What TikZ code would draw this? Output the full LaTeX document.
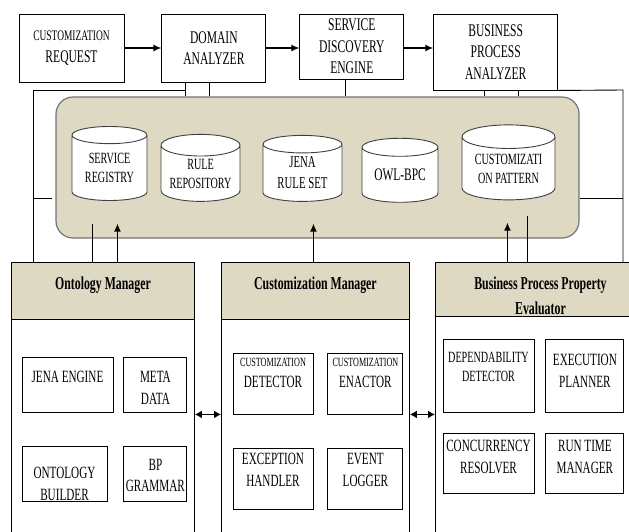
\documentclass[tikz,border=0pt]{standalone}
\usepackage{fontspec}
\newfontfamily\nar[FakeStretch=0.65]{Liberation Serif}
\usetikzlibrary{shapes.geometric,arrows.meta,positioning}
\definecolor{tanfill}{HTML}{DDD9C3}
\newcommand\smalltxt[1]{{\fontsize{12.5}{14}\selectfont #1}}

\begin{document}
\begin{tikzpicture}[
    x=1pt, y=-1pt, line width=0.9pt,
    box/.style={rectangle, draw, fill=white, inner sep=0pt, align=center, font=\nar\fontsize{17.8}{21.5}\selectfont},
    db/.style={cylinder, shape border rotate=90, draw=black!75, fill=white, aspect=0.35, inner sep=0pt, align=center, font=\nar\fontsize{15.6}{19}\selectfont},
    ibox/.style={rectangle, draw, fill=white, inner sep=0pt, minimum height=55pt},
    txt/.style={anchor=north, inner sep=0pt, align=center, font=\nar\fontsize{17.2}{21.5}\selectfont},
    head/.style={rectangle, draw, fill=tanfill, inner sep=0pt, anchor=north west},
    htxt/.style={anchor=north, inner sep=0pt, yshift=-14pt, align=center, font=\nar\bfseries\fontsize{18.2}{25}\selectfont},
    panel/.style={rectangle, draw, fill=white, inner sep=0pt, anchor=north west, minimum height=230pt},
    arrow/.style={-{Latex[length=8pt,width=7pt]}, line width=1.3pt},
    dblarrow/.style={{Latex[length=7pt,width=8pt]}-{Latex[length=7pt,width=8pt]}, line width=1.3pt}
]
\useasboundingbox (0,0) rectangle (629,531);
\clip (0,0) rectangle (629,531);

% top row
\node[box, minimum width=105pt, minimum height=68pt] (req) at (71.5,48) {{\fontsize{14.5}{17}\selectfont CUSTOMIZATION}\\REQUEST};
\node[box, minimum width=104pt, minimum height=68pt, right=37pt of req.north east, anchor=north west] (dom) {DOMAIN\\ANALYZER};
\node[box, minimum width=104pt, minimum height=65pt, right=33pt of dom.north east, anchor=north west] (sde) {SERVICE\\DISCOVERY\\ENGINE};
\node[box, minimum width=124pt, minimum height=76pt, right=29pt of sde.north east, anchor=north west] (bpa) {BUSINESS\\PROCESS\\ANALYZER};

\draw[arrow] (req) -- (dom);
\draw[arrow] (dom.east) -- (dom.east -| sde.west);
\draw[arrow] (sde.east |- dom.east) -- (bpa.west |- dom.east);

% knowledge base
\node[rectangle, rounded corners=17pt, draw=black!55, fill=tanfill, line width=1.2pt, minimum width=523pt, minimum height=141pt] (repo) at (317.5,167.5) {};

\node[db, minimum width=75pt, minimum height=74pt] (sreg) at (109.5,168) {SERVICE\\REGISTRY};
\node[db, minimum width=79pt, minimum height=67pt] (rrep) at (200.5,173.5) {RULE\\REPOSITORY};
\node[db, minimum width=79pt, minimum height=66pt, font=\nar\fontsize{16.6}{21}\selectfont] (jrs) at (302.5,173) {JENA\\RULE SET};
\node[db, minimum width=76pt, minimum height=64pt, font=\nar\fontsize{17.6}{21}\selectfont] (owl) at (400,175) {OWL-BPC};
\node[db, minimum width=93pt, minimum height=75pt] (cpat) at (508.5,168.5) {CUSTOMIZATI\\ON PATTERN};

% managers
\node[head, minimum width=183pt, minimum height=57pt, label={[htxt]north:Ontology Manager}] (omh) at (11,262) {};
\node[panel, minimum width=183pt] (omb) at (11,319) {};
\node[head, minimum width=188pt, minimum height=57pt, label={[htxt]north:Customization Manager}] (cmh) at (221,262) {};
\node[panel, minimum width=188pt] (cmb) at (221,319) {};
\node[head, minimum width=210pt, minimum height=54pt, label={[htxt]north:{Business Process Property\\Evaluator}}] (bph) at (435,262) {};
\node[panel, minimum width=210pt] (bpb) at (435,316) {};

% ontology manager parts
\node[ibox, minimum width=91pt, label={[txt, yshift=-14.5pt]north:JENA ENGINE}] (jeng) at (67.5,384.5) {};
\node[ibox, minimum width=63pt, right=10pt of jeng, label={[txt, yshift=-14.5pt]north:{META\\DATA}}] (meta) {};
\node[ibox, minimum width=85pt, below=34pt of jeng.south west, anchor=north west, label={[txt, yshift=-20.5pt]north:{ONTOLOGY\\BUILDER}}] (ontb) {};
\node[ibox, minimum width=63pt, right=16pt of ontb, label={[txt, yshift=-12pt]north:{BP\\GRAMMAR}}] (bpg) {};

% customization manager parts
\node[ibox, minimum width=80pt, minimum height=61pt, label={[txt, yshift=-5pt]north:{\smalltxt{CUSTOMIZATION}\\DETECTOR}}] (cdet) at (273,383.5) {};
\node[ibox, minimum width=75pt, minimum height=61pt, right=14pt of cdet, label={[txt, yshift=-5pt]north:{\smalltxt{CUSTOMIZATION}\\ENACTOR}}] (cena) {};
\node[ibox, minimum width=80pt, minimum height=61pt, label={[txt, yshift=-5.5pt]north:{EXCEPTION\\HANDLER}}] (exch) at (273,478.5) {};
\node[ibox, minimum width=75pt, minimum height=61pt, right=14pt of exch, label={[txt, yshift=-5.5pt]north:{EVENT\\LOGGER}}] (evlg) {};

% evaluator parts
\node[ibox, minimum width=91pt, minimum height=73pt, label={[txt, yshift=-13pt, font=\nar\fontsize{15.6}{19.5}\selectfont]north:{DEPENDABILITY\\DETECTOR}}] (depd) at (488.5,375.5) {};
\node[ibox, minimum width=78pt, minimum height=73pt, right=11pt of depd, label={[txt, yshift=-15.5pt]north:{EXECUTION\\PLANNER}}] (expl) {};
\node[ibox, minimum width=91pt, minimum height=60pt, label={[txt, yshift=-7.5pt]north:{CONCURRENCY\\RESOLVER}}] (conc) at (488.5,463) {};
\node[ibox, minimum width=78pt, minimum height=60pt, right=11pt of conc, label={[txt, yshift=-7.5pt]north:{RUN TIME\\MANAGER}}] (rtm) {};

% links between managers
\draw[dblarrow] (omb.east |- cdet.south) -- (cmb.west |- cdet.south);
\draw[dblarrow] (cmb.east |- cena.south) -- (bpb.west |- cena.south);

% links to the knowledge base
\coordinate (tl) at (33,90);
\coordinate (tr) at (623,90);
\coordinate (ls) at (33,198);
\coordinate (rs) at (623,198);
\draw ([xshift=-28pt]dom.south) -- ([xshift=-28pt]dom.south |- repo.north);
\draw ([xshift=-28pt]dom.south |- tl) -- (tl) -- (tl |- omh.north);
\draw ([xshift=-4pt]dom.south) -- ([xshift=-4pt]dom.south |- repo.north);
\draw ([xshift=-6pt]sde.south) -- ([xshift=-6pt]sde.south |- repo.north);
\draw ([xshift=-11pt]bpa.south) -- ([xshift=-11pt]bpa.south |- repo.north);
\draw ([xshift=23pt]bpa.south) -- ([xshift=23pt]bpa.south |- repo.north);
\draw (bpa.south east) -- (tr) -- (tr |- bph.north);
\draw (ls) -- ([xshift=-3pt]ls -| repo.west);
\draw (repo.east |- rs) -- (rs);

\draw ([xshift=-10.5pt]omh.north) -- ([xshift=-10.5pt,yshift=15pt]omh.north |- repo.south);
\draw[arrow] ([xshift=14.5pt]omh.north) -- ([xshift=14.5pt,yshift=15pt]omh.north |- repo.south);
\draw[arrow] ([xshift=-2pt]cmh.north) -- ([xshift=-2pt,yshift=15pt]cmh.north |- repo.south);
\draw[arrow] ([xshift=-33pt]bph.north) -- ([xshift=-33pt,yshift=16pt]bph.north |- repo.south);
\draw ([xshift=-13pt]bph.north) -- ([xshift=-13pt,yshift=23pt]bph.north |- repo.south);

\end{tikzpicture}
\end{document}
